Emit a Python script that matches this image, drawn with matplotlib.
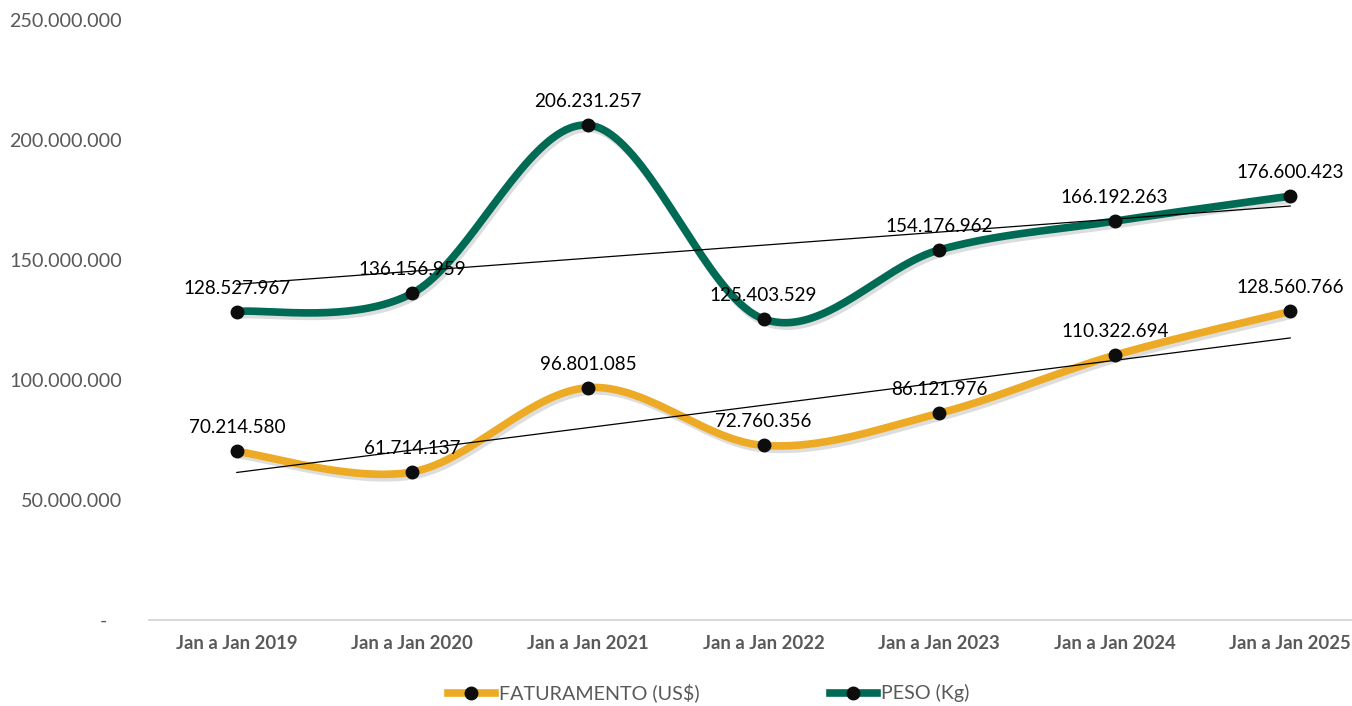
import numpy as np
import matplotlib
matplotlib.use("Agg")
import matplotlib.pyplot as plt
import matplotlib.patheffects as pe
from matplotlib.ticker import FuncFormatter, MultipleLocator
from matplotlib.lines import Line2D

categories = ["Jan a Jan 2019", "Jan a Jan 2020", "Jan a Jan 2021", "Jan a Jan 2022",
              "Jan a Jan 2023", "Jan a Jan 2024", "Jan a Jan 2025"]
faturamento = [70214580, 61714137, 96801085, 72760356, 86121976, 110322694, 128560766]
peso = [128527967, 136156959, 206231257, 125403529, 154176962, 166192263, 176600423]
series_names = ["FATURAMENTO (US$)", "PESO (Kg)"]
colors = ["#EDAA25", "#006B54"]

plt.rcParams['font.family'] = ['Lato', 'DejaVu Sans']

fig = plt.figure(figsize=(13.52, 7.06), dpi=100)
ax = fig.add_axes([149/1352, 86/706, 1229/1352, 600/706])


def smooth(xs, ys, n=40):
    # Excel-like smoothing: cubic Bezier with Catmull-Rom control points
    xs = np.asarray(xs, float); ys = np.asarray(ys, float)
    P = np.column_stack([xs, ys])
    out = []
    for i in range(len(P) - 1):
        p0 = P[i - 1] if i > 0 else P[i]
        p1 = P[i]; p2 = P[i + 1]
        p3 = P[i + 2] if i + 2 < len(P) else P[i + 1]
        c1 = p1 + (p2 - p0) / 6.0
        c2 = p2 - (p3 - p1) / 6.0
        t = np.linspace(0, 1, n)[:, None]
        seg = (1 - t) ** 3 * p1 + 3 * (1 - t) ** 2 * t * c1 + 3 * (1 - t) * t ** 2 * c2 + t ** 3 * p2
        out.append(seg if i == 0 else seg[1:])
    s = np.vstack(out)
    return s[:, 0], s[:, 1]

x = np.arange(len(categories))
shadow = [pe.SimpleLineShadow(offset=(1.5, -2.5), shadow_color='#666666', alpha=0.22), pe.Normal()]

for vals, col in zip([faturamento, peso], colors):
    sx, sy = smooth(x, vals)
    ax.plot(sx, sy, color=col, lw=5.5, solid_capstyle='round', path_effects=shadow, zorder=3)
    ax.plot(x, vals, 'o', color='#0d0d0d', ms=9, zorder=5)
    # linear trendline
    m, b = np.polyfit(x, vals, 1)
    ax.plot([x[0], x[-1]], [m * x[0] + b, m * x[-1] + b], color='black', lw=0.9, zorder=4)
    for xi, v in zip(x, vals):
        ax.annotate(f"{v:,}".replace(",", "."), (xi, v), xytext=(0, 15), textcoords='offset pixels',
                    ha='center', va='bottom', fontsize=13.6, color='black', zorder=6)

ax.set_xlim(-0.5, len(categories) - 0.5)
ax.set_ylim(0, 250000000)
ax.yaxis.set_major_locator(MultipleLocator(50000000))
ax.yaxis.set_major_formatter(FuncFormatter(lambda v, p: "-   " if v == 0 else f"{int(v):,}".replace(",", ".")))
ax.set_xticks(x)
ax.set_xticklabels(categories, fontweight='bold', fontsize=13.3)
ax.tick_params(axis='y', length=0, labelsize=14.2, labelcolor='#595959', pad=19.5)
ax.tick_params(axis='x', length=0, labelcolor='#595959', pad=11)
for s in ['top', 'right', 'left']:
    ax.spines[s].set_visible(False)
ax.spines['bottom'].set_color('#D9D9D9')
ax.spines['bottom'].set_linewidth(1.5)

handles = [Line2D([], [], color=c, lw=5.5, marker='o', ms=9, markerfacecolor='#0d0d0d',
                  markeredgecolor='#0d0d0d') for c in colors]
leg = fig.legend(handles, series_names, loc='center', bbox_to_anchor=(0.524, 13/706), ncol=2,
                 frameon=False, fontsize=14.2, handlelength=2.4, handletextpad=0.2,
                 columnspacing=6.6, labelcolor='#595959')

fig.savefig("out.png", dpi=100)
